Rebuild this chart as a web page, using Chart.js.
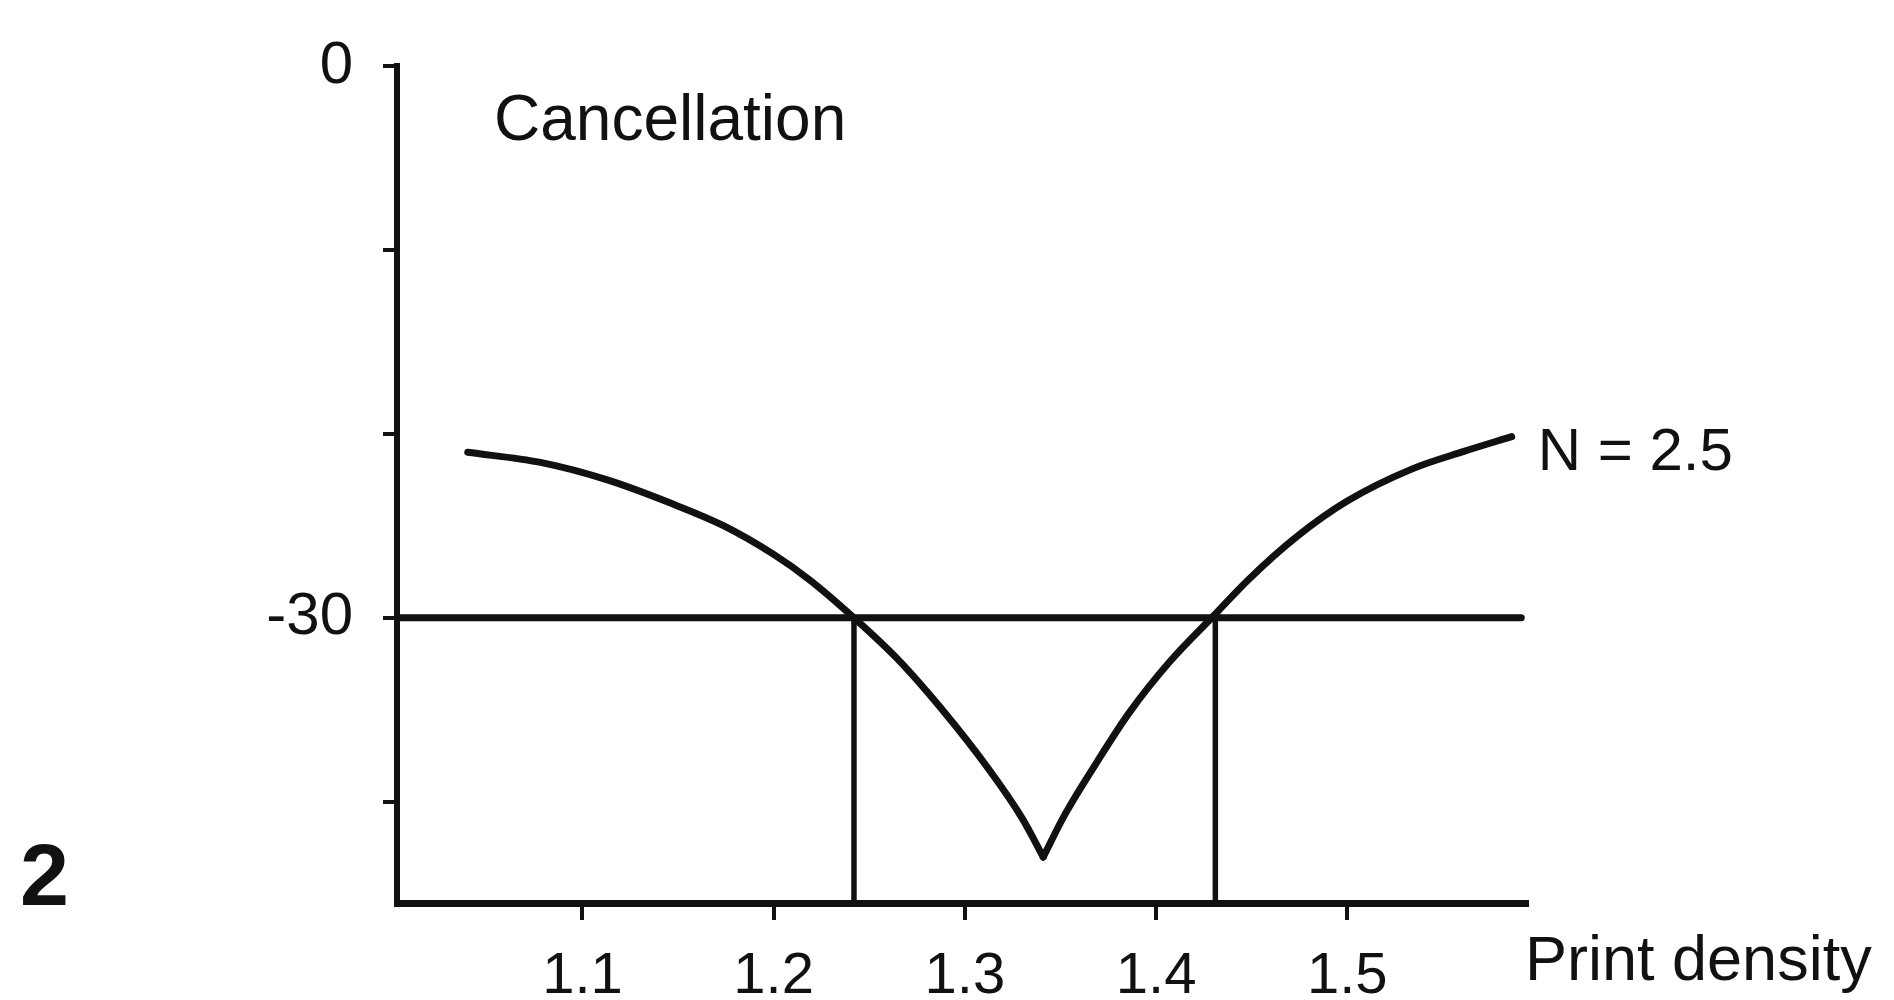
<!DOCTYPE html>
<html>
<head>
<meta charset="utf-8">
<title>Cancellation vs print density</title>
<script src="https://cdn.jsdelivr.net/npm/chart.js@4.4.1/dist/chart.umd.min.js"></script>
<style>
html,body{margin:0;padding:0;background:#fff;}
#wrap{width:1894px;height:1000px;}
</style>
</head>
<body>
<div id="wrap"><canvas id="chart" width="1894" height="1000"></canvas></div>
<script>
// curve N = 2.5, split at the notch so the bottom stays sharp
var densityLeft=[1.040,1.078,1.113,1.147,1.174,1.200,1.219,1.241,1.264,1.287,1.313,1.330,1.341];
var cancelLeft=[-21.0,-21.55,-22.5,-23.8,-25.0,-26.55,-27.95,-29.9,-32.15,-34.85,-38.3,-40.9,-43.0];
var densityRight=[1.341,1.352,1.369,1.386,1.407,1.430,1.448,1.474,1.500,1.534,1.561,1.586];
var cancelRight=[-43.0,-40.75,-37.85,-35.15,-32.4,-29.9,-27.95,-25.55,-23.65,-21.9,-20.95,-20.15];

var threshold=-30;
var crossings=[1.242,1.431];
var thresholdEnd=1.591;

var xTicks=[1.1,1.2,1.3,1.4,1.5];
var yTicks=[0,-10,-20,-30,-40];
var yLabelled=[0,-30];

var yTitle="Cancellation";
var xTitle="Print density";
var curveLabel="N = 2.5";
var figNo="2";

var xMin=1.003, xMax=1.594, yMin=-45.5, yMax=0;
var ink="#111";
var family='"Liberation Sans", Arial, Helvetica, sans-serif';

function pts(xs,ys){
    return xs.map(function(x,i){ return {x:x,y:ys[i]}; });
}

var datasets=[
    {data:pts(densityLeft,cancelLeft),borderWidth:7,cubicInterpolationMode:'monotone'},
    {data:pts(densityRight,cancelRight),borderWidth:7,cubicInterpolationMode:'monotone'},
    {data:pts([xMin,thresholdEnd],[threshold,threshold]),borderWidth:7}
];
crossings.forEach(function(c){
    datasets.push({data:pts([c,c],[threshold,yMin]),borderWidth:5.5});
});
datasets.forEach(function(d){
    d.borderColor=ink;
    d.pointRadius=0;
    d.fill=false;
    d.borderCapStyle='round';
    d.borderJoinStyle='round';
});

var notes={
    id:'notes',
    afterDraw:function(c){
        var ctx=c.ctx, a=c.chartArea, xs=c.scales.x, ys=c.scales.y;
        var last=densityRight.length-1;
        ctx.save();
        ctx.fillStyle=ink;
        ctx.textBaseline='alphabetic';
        ctx.textAlign='left';
        ctx.font='64px '+family;
        ctx.fillText(yTitle,a.left+97,a.top+74);
        ctx.font='60px '+family;
        ctx.fillText(curveLabel,xs.getPixelForValue(densityRight[last])+26,ys.getPixelForValue(cancelRight[last])+33);
        ctx.font='63px '+family;
        ctx.fillText(xTitle,a.right-2,980);
        ctx.font='bold 88px '+family;
        ctx.fillText(figNo,20,905);
        ctx.restore();
    }
};

Chart.defaults.font.family=family;

var chart=new Chart(document.getElementById('chart').getContext('2d'),{
    type:'line',
    data:{datasets:datasets},
    options:{
        responsive:false,
        animation:false,
        devicePixelRatio:1,
        layout:{padding:{left:0,right:367,top:52,bottom:0}},
        plugins:{legend:{display:false},tooltip:{enabled:false}},
        scales:{
            x:{
                type:'linear',
                min:xMin,max:xMax,
                afterBuildTicks:function(s){ s.ticks=xTicks.map(function(v){ return {value:v}; }); },
                afterFit:function(s){ s.height=97; },
                grid:{drawOnChartArea:false,drawTicks:true,tickLength:17,color:ink,lineWidth:4},
                border:{display:true,color:ink,width:7},
                ticks:{
                    color:ink,font:{size:58},padding:22,maxRotation:0,autoSkip:false,
                    callback:function(v){ return v.toFixed(1); }
                }
            },
            y:{
                type:'linear',
                min:yMin,max:yMax,
                afterBuildTicks:function(s){ s.ticks=yTicks.map(function(v){ return {value:v}; }); },
                afterFit:function(s){ s.width=397; },
                grid:{drawOnChartArea:false,drawTicks:true,tickLength:14,color:ink,lineWidth:4},
                border:{display:true,color:ink,width:6},
                ticks:{
                    color:ink,font:{size:60},padding:30,autoSkip:false,
                    callback:function(v){ return yLabelled.indexOf(v)>=0 ? String(v) : ''; }
                }
            }
        }
    },
    plugins:[notes]
});
</script>
</body>
</html>
